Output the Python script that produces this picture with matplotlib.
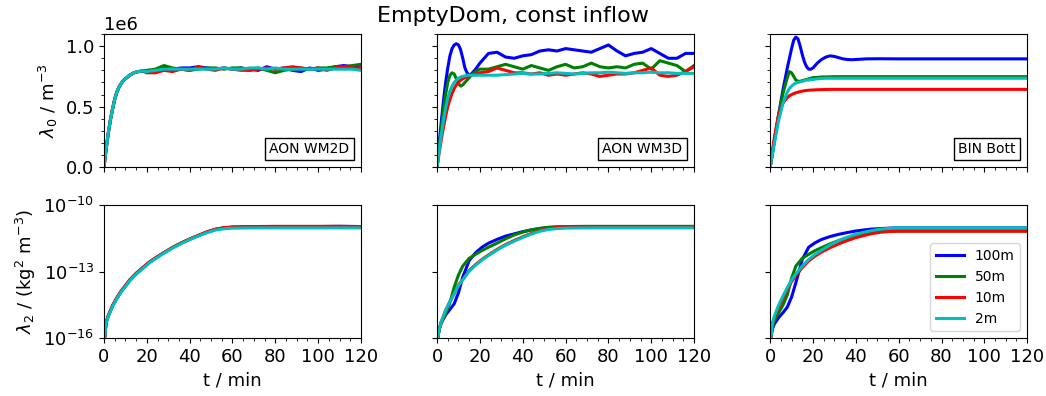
import numpy as np
import matplotlib
matplotlib.use("Agg")
import matplotlib.pyplot as plt
from matplotlib.ticker import AutoMinorLocator, NullLocator

plt.rcParams["font.size"] = 13

labels = ["100m", "50m", "10m", "2m"]
colors = ["b", "g", "r", "c"]
boxes = ["AON WM2D", "AON WM3D", "BIN Bott"]

# ---- lambda_0 (units of 1e6 m^-3) ----
t_aon = [0, 1, 2, 3, 4, 5, 6, 7, 8, 9, 10, 11, 12, 13, 14, 15, 16, 18,
         20, 24, 28, 32, 36, 40, 44, 48, 52, 56, 60, 64, 68, 72, 76, 80,
         84, 88, 92, 96, 100, 104, 108, 112, 116, 120]

wm2d_rise = [0, 0.15, 0.28, 0.39, 0.48, 0.56, 0.62, 0.66, 0.69, 0.715, 0.73,
             0.745, 0.76, 0.77, 0.78, 0.785, 0.79, 0.795]
wm2d_100 = wm2d_rise + [0.79, 0.80, 0.82, 0.81, 0.82, 0.82, 0.83, 0.82, 0.81, 0.82, 0.81, 0.82, 0.81,
                        0.80, 0.83, 0.81, 0.82, 0.80, 0.79, 0.82, 0.80, 0.81, 0.83, 0.84, 0.83, 0.82]
wm2d_50 = wm2d_rise + [0.80, 0.81, 0.84, 0.82, 0.81, 0.80, 0.81, 0.82, 0.82, 0.81, 0.82, 0.82, 0.80,
                       0.82, 0.80, 0.78, 0.80, 0.81, 0.82, 0.81, 0.82, 0.82, 0.83, 0.83, 0.84, 0.85]
wm2d_10 = wm2d_rise + [0.78, 0.78, 0.80, 0.79, 0.81, 0.80, 0.83, 0.81, 0.80, 0.82, 0.81, 0.80, 0.80,
                       0.81, 0.82, 0.81, 0.82, 0.83, 0.82, 0.81, 0.82, 0.80, 0.82, 0.83, 0.82, 0.82]
wm2d_2 = wm2d_rise + [0.79, 0.80, 0.81, 0.81, 0.81, 0.81, 0.81, 0.81, 0.81, 0.82, 0.81, 0.81, 0.82,
                      0.82, 0.81, 0.82, 0.81, 0.81, 0.81, 0.81, 0.81, 0.81, 0.81, 0.81, 0.81, 0.80]

wm3d_100 = [0, 0.2, 0.38, 0.55, 0.70, 0.82, 0.92, 0.98, 1.01, 1.02, 1.01, 0.97, 0.90, 0.82, 0.78,
            0.76, 0.77, 0.81, 0.86, 0.94, 0.95, 0.91, 0.90, 0.92, 0.93, 0.96, 0.97, 0.96, 0.98,
            0.97, 0.96, 0.95, 0.98, 1.01, 0.96, 0.92, 0.94, 0.95, 0.98, 0.94, 0.90, 0.90, 0.94, 0.94]
wm3d_50 = [0, 0.17, 0.33, 0.48, 0.60, 0.70, 0.76, 0.78, 0.77, 0.73, 0.69, 0.67, 0.68, 0.70, 0.72,
           0.74, 0.76, 0.79, 0.81, 0.81, 0.83, 0.85, 0.83, 0.81, 0.84, 0.82, 0.80, 0.83, 0.85,
           0.82, 0.83, 0.86, 0.83, 0.82, 0.83, 0.82, 0.85, 0.86, 0.81, 0.88, 0.86, 0.84, 0.79, 0.84]
wm3d_10 = [0, 0.12, 0.23, 0.33, 0.42, 0.50, 0.56, 0.61, 0.65, 0.68, 0.70, 0.72, 0.73, 0.74, 0.745,
           0.75, 0.76, 0.77, 0.78, 0.79, 0.82, 0.80, 0.78, 0.78, 0.77, 0.78, 0.76, 0.77, 0.76,
           0.77, 0.78, 0.77, 0.75, 0.76, 0.77, 0.77, 0.78, 0.80, 0.82, 0.76, 0.75, 0.76, 0.79, 0.83]
wm3d_2 = [0, 0.14, 0.27, 0.39, 0.49, 0.57, 0.63, 0.67, 0.70, 0.72, 0.735, 0.745, 0.75, 0.755, 0.76,
          0.76, 0.76, 0.76, 0.76, 0.76, 0.76, 0.765, 0.77, 0.775, 0.77, 0.77, 0.775, 0.78, 0.775,
          0.77, 0.775, 0.78, 0.78, 0.785, 0.78, 0.775, 0.78, 0.78, 0.785, 0.78, 0.78, 0.775, 0.775, 0.775]

t_bin = [0, 2, 4, 6, 8, 9, 10, 11, 12, 13, 14, 15, 16, 17, 18, 19, 20, 22, 24, 26, 28,
         30, 32, 34, 36, 38, 40, 45, 50, 60, 80, 100, 120]
bott_100 = [0, 0.22, 0.44, 0.64, 0.82, 0.90, 0.98, 1.05, 1.075, 1.06, 1.00, 0.93, 0.87, 0.83,
            0.81, 0.81, 0.82, 0.86, 0.89, 0.91, 0.92, 0.915, 0.905, 0.895, 0.89, 0.888, 0.89,
            0.895, 0.896, 0.895, 0.895, 0.895, 0.895]
bott_50 = [0, 0.22, 0.43, 0.61, 0.74, 0.79, 0.78, 0.75, 0.72, 0.71, 0.71, 0.715, 0.72, 0.725,
           0.73, 0.735, 0.74, 0.742, 0.745, 0.746, 0.747, 0.748, 0.748, 0.748, 0.748, 0.748,
           0.748, 0.748, 0.748, 0.748, 0.748, 0.748, 0.748]
bott_10 = [0, 0.25, 0.44, 0.53, 0.575, 0.59, 0.60, 0.608, 0.615, 0.62, 0.625, 0.628, 0.632,
           0.634, 0.636, 0.637, 0.638, 0.64, 0.641, 0.642, 0.643, 0.643, 0.643, 0.643, 0.643,
           0.643, 0.643, 0.643, 0.643, 0.643, 0.643, 0.643, 0.643]
bott_2 = [0, 0.2, 0.39, 0.53, 0.62, 0.65, 0.67, 0.685, 0.695, 0.70, 0.705, 0.71, 0.715, 0.72,
          0.72, 0.725, 0.725, 0.73, 0.733, 0.735, 0.735, 0.735, 0.735, 0.735, 0.735, 0.735,
          0.735, 0.735, 0.735, 0.735, 0.735, 0.735, 0.735]

# ---- lambda_2, log10 of kg^2 m^-3 ----
t_log = [0.3, 1, 2, 4, 6, 8, 10, 12, 15, 18, 21, 24, 28, 32, 36, 40, 44, 48, 52, 56, 60,
         70, 80, 90, 100, 110, 120]

lg_wm2d_100 = [-16, -15.3, -15.0, -14.55, -14.2, -13.9, -13.65, -13.4, -13.1, -12.85, -12.6, -12.4,
               -12.15, -11.92, -11.72, -11.54, -11.38, -11.22, -11.1, -11.03, -11.0, -10.98, -10.97,
               -10.97, -10.97, -10.96, -10.97]
lg_wm2d_50 = [-16, -15.3, -15.0, -14.55, -14.2, -13.9, -13.65, -13.4, -13.1, -12.85, -12.6, -12.4,
              -12.15, -11.92, -11.72, -11.54, -11.38, -11.22, -11.1, -11.03, -11.0, -10.98, -10.97,
              -10.97, -10.97, -10.97, -10.97]
lg_wm2d_10 = [-16, -15.28, -14.97, -14.52, -14.17, -13.87, -13.62, -13.37, -13.07, -12.82, -12.58,
              -12.38, -12.14, -11.91, -11.71, -11.53, -11.37, -11.21, -11.09, -11.02, -10.99, -10.97,
              -10.96, -10.96, -10.96, -10.96, -10.97]
lg_wm2d_2 = [-16, -15.32, -15.02, -14.57, -14.22, -13.92, -13.67, -13.42, -13.12, -12.87, -12.62,
             -12.42, -12.17, -11.94, -11.74, -11.56, -11.4, -11.25, -11.13, -11.07, -11.04, -11.03,
             -11.03, -11.03, -11.03, -11.03, -11.03]

lg_wm3d_100 = [-16, -15.6, -15.3, -14.95, -14.7, -14.45, -13.95, -13.25, -12.5, -12.15, -11.9, -11.72,
               -11.55, -11.4, -11.3, -11.2, -11.12, -11.06, -11.02, -11.0, -10.98, -10.98, -10.97,
               -10.98, -10.98, -10.98, -10.99]
lg_wm3d_50 = [-16, -15.6, -15.3, -14.9, -14.4, -13.7, -13.15, -12.75, -12.4, -12.22, -12.05, -11.9,
              -11.72, -11.52, -11.35, -11.22, -11.12, -11.05, -11.0, -10.98, -10.97, -10.96, -10.96,
              -10.96, -10.96, -10.96, -10.96]
lg_wm3d_10 = [-16, -15.6, -15.25, -14.75, -14.35, -14.0, -13.6, -13.35, -12.95, -12.68, -12.45, -12.25,
              -12.0, -11.78, -11.6, -11.43, -11.28, -11.15, -11.06, -11.02, -11.0, -10.98, -10.98,
              -10.98, -10.98, -10.98, -10.98]
lg_wm3d_2 = [-16, -15.6, -15.25, -14.75, -14.35, -14.0, -13.62, -13.37, -12.98, -12.71, -12.48, -12.28,
             -12.03, -11.81, -11.63, -11.46, -11.31, -11.18, -11.1, -11.06, -11.04, -11.03, -11.03,
             -11.03, -11.03, -11.03, -11.03]

lg_bott_100 = [-16, -15.6, -15.35, -15.07, -14.85, -14.6, -14.15, -13.5, -12.45, -11.9, -11.7, -11.55,
               -11.42, -11.32, -11.24, -11.17, -11.12, -11.08, -11.06, -11.04, -11.03, -11.03, -11.03,
               -11.03, -11.03, -11.03, -11.03]
lg_bott_50 = [-16, -15.5, -15.2, -14.85, -14.5, -14.05, -13.3, -12.75, -12.4, -12.22, -12.05, -11.92,
              -11.75, -11.6, -11.48, -11.38, -11.3, -11.24, -11.2, -11.18, -11.17, -11.17, -11.17,
              -11.17, -11.17, -11.17, -11.17]
lg_bott_10 = [-16, -15.4, -15.05, -14.6, -14.2, -13.8, -13.45, -13.18, -12.82, -12.52, -12.3, -12.12,
              -11.92, -11.75, -11.6, -11.47, -11.37, -11.28, -11.22, -11.19, -11.18, -11.18, -11.18,
              -11.18, -11.18, -11.18, -11.18]
lg_bott_2 = [-16, -15.35, -15.0, -14.5, -14.1, -13.72, -13.38, -13.1, -12.75, -12.45, -12.22, -12.03,
             -11.8, -11.6, -11.45, -11.32, -11.22, -11.14, -11.08, -11.05, -11.03, -11.03, -11.03,
             -11.03, -11.03, -11.03, -11.03]

top_data = [
    (t_aon, [wm2d_100, wm2d_50, wm2d_10, wm2d_2]),
    (t_aon, [wm3d_100, wm3d_50, wm3d_10, wm3d_2]),
    (t_bin, [bott_100, bott_50, bott_10, bott_2]),
]
bot_data = [
    [lg_wm2d_100, lg_wm2d_50, lg_wm2d_10, lg_wm2d_2],
    [lg_wm3d_100, lg_wm3d_50, lg_wm3d_10, lg_wm3d_2],
    [lg_bott_100, lg_bott_50, lg_bott_10, lg_bott_2],
]

fig, axs = plt.subplots(2, 3, figsize=(10.46, 3.96), dpi=100, sharex=True)
fig.subplots_adjust(left=0.0994, right=0.982, top=0.914, bottom=0.146,
                    wspace=0.296, hspace=0.284)

for j in range(3):
    ax = axs[0, j]
    t, series = top_data[j]
    for y, c, lab in zip(series, colors, labels):
        ax.plot(t, np.array(y) * 1e6, color=c, lw=2.2, label=lab)
    ax.set_ylim(0, 1.1e6)
    ax.set_yticks([0, 0.5e6, 1.0e6])
    ax.yaxis.set_minor_locator(AutoMinorLocator(5))
    ax.text(0.955, 0.085, boxes[j], transform=ax.transAxes, ha="right", va="bottom",
            fontsize=10, bbox=dict(boxstyle="square,pad=0.3", facecolor="white", edgecolor="black"))
    if j > 0:
        ax.set_yticklabels([])
        ax.yaxis.get_offset_text().set_visible(False)

    ax = axs[1, j]
    for y, c, lab in zip(bot_data[j], colors, labels):
        ax.semilogy(t_log, 10.0 ** np.array(y), color=c, lw=2.2, label=lab)
    ax.set_ylim(1e-16, 1e-10)
    ax.set_yticks([1e-16, 1e-13, 1e-10])
    ax.yaxis.set_minor_locator(NullLocator())
    ax.set_xlabel("t / min")
    if j > 0:
        ax.set_yticklabels([])

for ax in axs.flat:
    ax.set_xlim(0, 120)
    ax.set_xticks([0, 20, 40, 60, 80, 100, 120])
    ax.xaxis.set_minor_locator(AutoMinorLocator(4))

axs[0, 0].set_ylabel(r"$\lambda_0$ / m$^{-3}$")
axs[1, 0].set_ylabel(r"$\lambda_2$ / (kg$^2$ m$^{-3}$)")
axs[1, 2].legend(loc="lower right", fontsize=10)

fig.suptitle("EmptyDom, const inflow", fontsize=16, x=0.49, y=0.985)

fig.savefig("out.png", dpi=100)
